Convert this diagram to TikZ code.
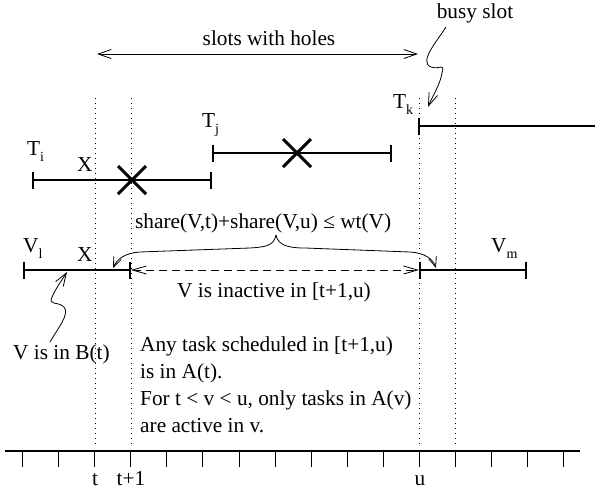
\documentclass[tikz,border=0pt]{standalone}
\usepackage{fontspec}
\setmainfont{Liberation Serif}
\usetikzlibrary{arrows.meta}
\newcommand\lsub[1]{\raisebox{-0.3em}{\fontsize{14}{14}\selectfont #1}}
\begin{document}
\begin{tikzpicture}[x=1pt,y=-1pt,
  lbl/.style={inner sep=0pt,font=\fontsize{21.3}{27}\selectfont},
  guide/.style={line width=0.9pt,dash pattern=on 0.9pt off 4.1pt},
  interval/.style={line width=1.8pt,{Bar[width=17pt]}-{Bar[width=17pt]}},
  openinterval/.style={line width=1.8pt,{Bar[width=17pt]}-},
  xmark/.style={line width=3pt},
  thinarrow/.style={line width=0.8pt,-{Straight Barb[length=13pt,width=9pt]}},
  bothbarb/.style={line width=0.8pt,{Straight Barb[length=13pt,width=9pt]}-{Straight Barb[length=13pt,width=9pt]}},
  dashedarrow/.style={line width=0.8pt,dash pattern=on 8pt off 5pt,{Straight Barb[length=14pt,width=8pt]}-{Straight Barb[length=14pt,width=8pt]}},
  bracearrow/.style={line width=0.8pt,-{Straight Barb[length=10pt,width=8pt]}},
  axis/.style={line width=1.2pt},
  axtick/.style={line width=1pt}]
\useasboundingbox (0,0) rectangle (595,493);

% dotted guide lines
\coordinate (g1t) at (95,98);  \coordinate (g1b) at (95,447);
\coordinate (g2t) at (131,98); \coordinate (g2b) at (131,447);
\coordinate (g3t) at (419,98); \coordinate (g3b) at (419,447);
\coordinate (g4t) at (455,98); \coordinate (g4b) at (455,447);
\draw[guide] (g1t) -- (g1b);
\draw[guide] (g2t) -- (g2b);
\draw[guide] (g3t) -- (g3b);
\draw[guide] (g4t) -- (g4b);

% slots with holes
\node[lbl,anchor=base] (swh) at (269,45) {slots with holes};
\coordinate (swhL) at (97,54); \coordinate (swhR) at (418,54);
\draw[bothbarb] (swhL) -- (swhR);

% busy slot
\node[lbl,anchor=base] (busy) at (475,18) {busy slot};
\coordinate (busyA) at (446,27); \coordinate (busyB) at (428,107);
\draw[thinarrow] (busyA) .. controls (438,40) and (418,62) .. (431,67)
  .. controls (440,70) and (445,62) .. (442,73)
  .. controls (440,85) and (432,97) .. (busyB);

% task intervals
\coordinate (ti0) at (32,180); \coordinate (ti1) at (212,180);
\draw[interval] (ti0) -- (ti1);
\node[lbl,anchor=base west] (Ti) at (27,155) {T\lsub{i}};
\node[lbl,anchor=base west] (X1) at (77,171) {X};
\draw[xmark] (118,166) -- (146,194) (118,194) -- (146,166);

\coordinate (tj0) at (212,153); \coordinate (tj1) at (392,153);
\draw[interval] (tj0) -- (tj1);
\node[lbl,anchor=base west] (Tj) at (202,127) {T\lsub{j}};
\draw[xmark] (283,139) -- (311,167) (283,167) -- (311,139);

\coordinate (tk0) at (418,126); \coordinate (tk1) at (596,126);
\draw[openinterval] (tk0) -- (tk1);
\node[lbl,anchor=base west] (Tk) at (393,108) {T\lsub{k}};

% share constraint
\node[lbl,anchor=base west] (share) at (135,228) {share(V,t)+share(V,u) ≤ wt(V)};
\coordinate (brtip) at (276,235);
\coordinate (brL) at (113,268); \coordinate (brR) at (436,268);
\draw[bracearrow] (brtip) .. controls (274,246) and (265,247) .. (250,248)
  -- (140,252) .. controls (125,253) and (117,259) .. (brL);
\draw[bracearrow] (brtip) .. controls (278,246) and (290,248) .. (305,248)
  -- (410,252) .. controls (425,253) and (433,259) .. (brR);

% V intervals
\coordinate (vl0) at (23,270); \coordinate (vl1) at (131,270);
\draw[interval] (vl0) -- (vl1);
\node[lbl,anchor=base west] (Vl) at (23,252) {V\lsub{l}};
\node[lbl,anchor=base west] (X2) at (77,261) {X};

\coordinate (vm0) at (419,270); \coordinate (vm1) at (527,270);
\draw[interval] (vm0) -- (vm1);
\node[lbl,anchor=base west] (Vm) at (491,252) {V\lsub{m}};

\draw[dashedarrow] (vl1) -- (vm0);
\node[lbl,anchor=base west] (inact) at (177,297) {V is inactive in [t+1,u)};

% V is in B(t)
\node[lbl,anchor=base west] (inB) at (13,359) {V is in B(t)};
\coordinate (inBA) at (50,342); \coordinate (inBB) at (67,272);
\draw[thinarrow] (inBA) .. controls (58,328) and (70,314) .. (64,307)
  .. controls (58,301) and (48,306) .. (52,297)
  .. controls (56,288) and (62,280) .. (inBB);

% explanation text
\node[lbl,anchor=base west] (l1) at (140,351) {Any task scheduled in [t+1,u)};
\node[lbl,anchor=base west] (l2) at (140,378) {is in A(t).};
\node[lbl,anchor=base west] (l3) at (140,405) {For t < v < u, only tasks in A(v)};
\node[lbl,anchor=base west] (l4) at (140,432) {are active in v.};

% time axis
\coordinate (ax0) at (5,451); \coordinate (ax1) at (580,451);
\draw[axis] (ax0) -- (ax1);
\foreach \k in {0,...,15} \draw[axtick] (22.7+36.05*\k,451) -- ++(0,16);
\node[lbl,anchor=base] (lt) at (95,485) {t};
\node[lbl,anchor=base] (lt1) at (131,485) {t+1};
\node[lbl,anchor=base] (lu) at (420,485) {u};
\end{tikzpicture}
\end{document}
